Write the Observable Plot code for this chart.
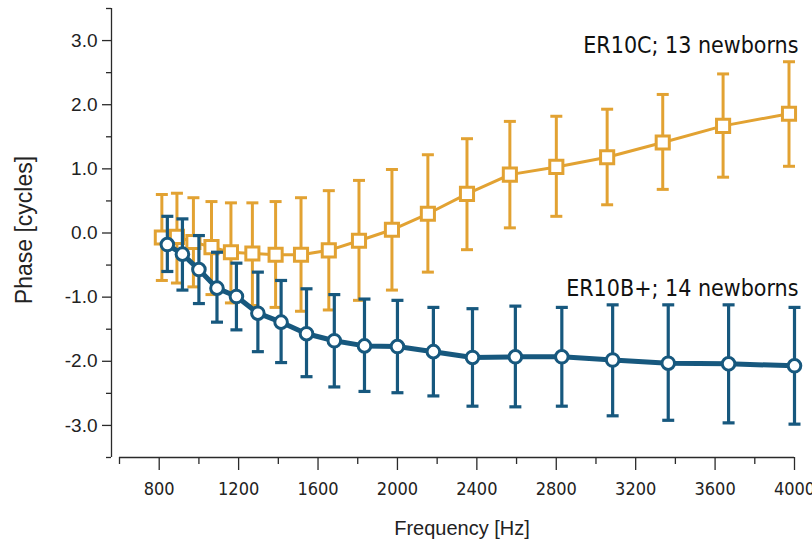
<!DOCTYPE html>
<html>
<head>
<meta charset="utf-8">
<script src="https://cdn.jsdelivr.net/npm/d3@7"></script>
<script src="https://cdn.jsdelivr.net/npm/@observablehq/plot@0.6"></script>
<style>
  html, body { margin: 0; padding: 0; background: #fff; }
  #chart svg { display: block; }
</style>
</head>
<body>
<div id="chart"></div>
<script>
// Frequencies (Hz) of the measured points
const freqs = [841, 917, 1000, 1091, 1189, 1297, 1414, 1542, 1682, 1834, 2000, 2181, 2378, 2594, 2828, 3084, 3364, 3668, 4000];

// ER10C; 13 newborns  (phase in cycles, mean and error-bar ends)
const er10cMean = [-0.07, -0.06, -0.14, -0.22, -0.30, -0.32, -0.34, -0.34, -0.27, -0.12, 0.05, 0.30, 0.61, 0.91, 1.03, 1.18, 1.41, 1.67, 1.86];
const er10cHigh = [0.60, 0.62, 0.55, 0.49, 0.47, 0.47, 0.49, 0.55, 0.66, 0.82, 0.99, 1.22, 1.47, 1.74, 1.82, 1.93, 2.16, 2.48, 2.67];
const er10cLow  = [-0.74, -0.78, -0.84, -0.96, -1.09, -1.13, -1.16, -1.22, -1.20, -1.05, -0.89, -0.61, -0.26, 0.08, 0.26, 0.44, 0.68, 0.87, 1.04];

// ER10B+; 14 newborns
const er10bMean = [-0.18, -0.33, -0.57, -0.86, -0.99, -1.25, -1.39, -1.57, -1.68, -1.76, -1.77, -1.85, -1.94, -1.93, -1.93, -1.98, -2.03, -2.04, -2.07];
const er10bHigh = [0.26, 0.22, -0.04, -0.30, -0.47, -0.61, -0.74, -0.87, -0.96, -1.03, -1.05, -1.16, -1.18, -1.14, -1.16, -1.12, -1.12, -1.12, -1.16];
const er10bLow  = [-0.60, -0.89, -1.10, -1.39, -1.51, -1.85, -2.02, -2.24, -2.40, -2.47, -2.49, -2.54, -2.70, -2.71, -2.70, -2.85, -2.92, -2.96, -2.98];

// Series labels
const seriesLabels = ["ER10C; 13 newborns", "ER10B+; 14 newborns"];

// Axis ticks
const xTicks = [800, 1200, 1600, 2000, 2400, 2800, 3200, 3600, 4000];
const xMinorTicks = [600, 1000, 1400, 1800, 2200, 2600, 3000, 3400, 3800];
const yTicks = [-3, -2, -1, 0, 1, 2, 3];
const yMinorTicks = [-3.5, -2.5, -1.5, -0.5, 0.5, 1.5, 2.5, 3.5];

const er10c = freqs.map((f, i) => ({f, m: er10cMean[i], hi: er10cHigh[i], lo: er10cLow[i]}));
const er10b = freqs.map((f, i) => ({f, m: er10bMean[i], hi: er10bHigh[i], lo: er10bLow[i]}));

const ORANGE = "#E2A232";
const BLUE = "#17587E";
const AXIS = "#2a2a2a";
const sansFont = "'Liberation Sans', Arial, sans-serif";
const narrowFont = "'Liberation Sans Narrow', 'DejaVu Sans Condensed', 'Liberation Sans', sans-serif";

// horizontal cap symbol for error bars
const cap = {
  draw(ctx, size) {
    const w = Math.sqrt(size / Math.PI);
    ctx.moveTo(-w, 0);
    ctx.lineTo(w, 0);
  }
};

const ODX = -5.5; // orange series slight horizontal offset

const chart = Plot.plot({
  width: 812,
  height: 546,
  marginLeft: 111,
  marginRight: 18,
  marginTop: 8,
  marginBottom: 89,
  style: {background: "#fff", color: AXIS},
  x: {domain: [600, 4000], insetLeft: 8},
  y: {domain: [-3.5, 3.5]},
  marks: [
    // axis lines
    Plot.ruleX([600], {y1: -3.5, y2: 3.5, dx: -8, stroke: AXIS, strokeWidth: 1.3}),
    Plot.ruleY([-3.5], {x1: 600, x2: 4000, stroke: AXIS, strokeWidth: 1.3}),
    // y axis
    Plot.axisY(yMinorTicks, {tickSize: 5, tickFormat: () => "", label: null, stroke: AXIS, strokeWidth: 1.3}),
    Plot.axisY(yTicks, {tickSize: 9, tickPadding: 5, tickFormat: d => d.toFixed(1), label: null,
      fontSize: 19, fontFamily: sansFont, fill: "#222", stroke: AXIS, strokeWidth: 1.3}),
    // x axis
    Plot.axisX(xMinorTicks, {tickSize: 7, tickFormat: () => "", label: null, stroke: AXIS, strokeWidth: 1.3}),
    Plot.axisX(xTicks, {tickSize: 13, tickPadding: 12, label: null, tickFormat: d => String(d),
      fontSize: 18, fontFamily: narrowFont, fill: "#222", stroke: AXIS, strokeWidth: 1.3}),
    // axis titles
    Plot.text(["Frequency [Hz]"], {frameAnchor: "bottom", dx: 9, dy: 71, lineAnchor: "middle", textAnchor: "middle",
      fontSize: 20, fontFamily: sansFont, fill: "#222"}),
    Plot.text(["Phase [cycles]"], {frameAnchor: "left", dx: -87, dy: -3, rotate: -90, lineAnchor: "middle", textAnchor: "middle",
      fontSize: 23, fontFamily: sansFont, fill: "#222"}),

    // ER10C (orange, squares)
    Plot.ruleX(er10c, {x: "f", y1: "lo", y2: "hi", dx: ODX, stroke: ORANGE, strokeWidth: 3}),
    Plot.dot(er10c, {x: "f", y: "hi", dx: ODX, symbol: cap, r: 6, stroke: ORANGE, strokeWidth: 3}),
    Plot.dot(er10c, {x: "f", y: "lo", dx: ODX, symbol: cap, r: 6, stroke: ORANGE, strokeWidth: 3}),
    Plot.line(er10c, {x: "f", y: "m", dx: ODX, stroke: ORANGE, strokeWidth: 3}),
    Plot.dot(er10c, {x: "f", y: "m", dx: ODX, symbol: "square", r: 7.4, fill: "#fff", stroke: ORANGE, strokeWidth: 3}),

    // ER10B+ (blue, circles)
    Plot.ruleX(er10b, {x: "f", y1: "lo", y2: "hi", stroke: BLUE, strokeWidth: 3.2}),
    Plot.dot(er10b, {x: "f", y: "hi", symbol: cap, r: 6, stroke: BLUE, strokeWidth: 3.2}),
    Plot.dot(er10b, {x: "f", y: "lo", symbol: cap, r: 6, stroke: BLUE, strokeWidth: 3.2}),
    Plot.line(er10b, {x: "f", y: "m", stroke: BLUE, strokeWidth: 5}),
    Plot.dot(er10b, {x: "f", y: "m", r: 6.3, fill: "#fff", stroke: BLUE, strokeWidth: 3}),

    // series labels
    Plot.text([seriesLabels[0]], {x: 4000, y: 2.80, dx: 4, textAnchor: "end", lineAnchor: "bottom",
      fontSize: 23, fontFamily: narrowFont, fill: "#111"}),
    Plot.text([seriesLabels[1]], {x: 4000, y: -0.98, dx: 4, textAnchor: "end", lineAnchor: "bottom",
      fontSize: 23, fontFamily: narrowFont, fill: "#111"})
  ]
});

document.getElementById("chart").appendChild(chart);
</script>
</body>
</html>
